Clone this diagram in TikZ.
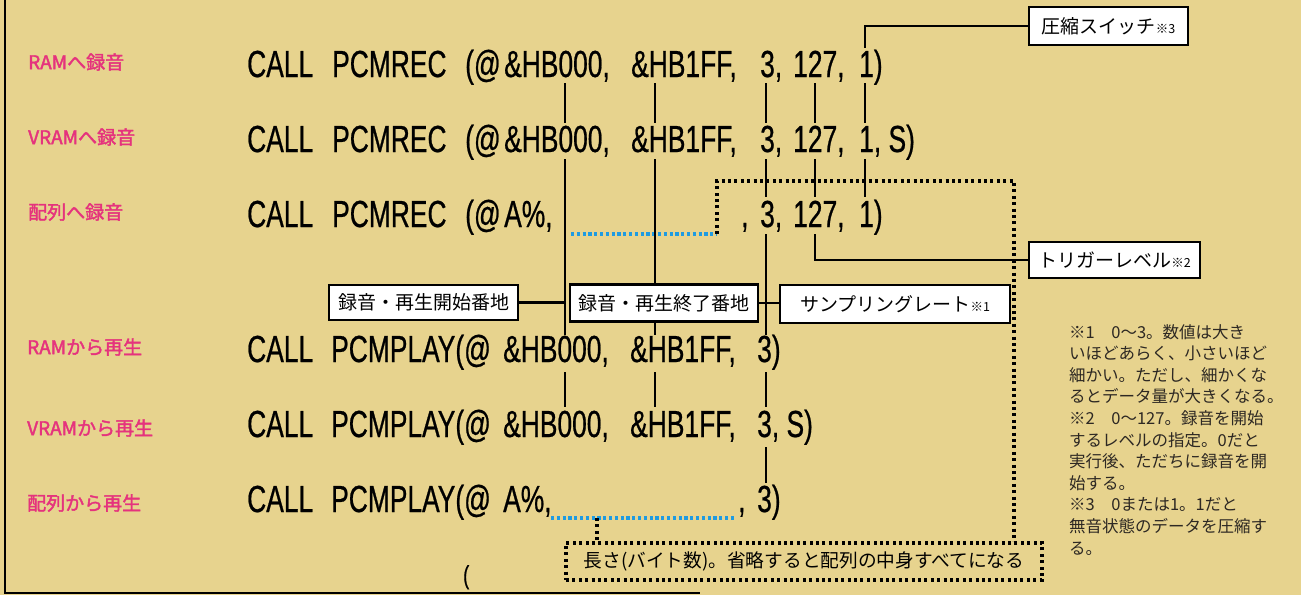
\documentclass[tikz,border=0pt]{standalone}
\usepackage{fontspec}
\newfontfamily\jp{Noto Sans CJK JP}
\newfontfamily\jpb[FakeBold=2]{Noto Sans CJK JP}
\newfontfamily\codef[FakeStretch=0.7,FakeBold=0.6]{Liberation Sans}
\definecolor{bg}{RGB}{231,211,142}
\definecolor{mag}{RGB}{229,51,125}
\definecolor{dotblue}{RGB}{30,155,225}
\definecolor{notec}{RGB}{45,40,35}
\begin{document}
\begin{tikzpicture}[x=1pt,y=-1pt,
  lab/.style={font=\jpb\fontsize{19}{21}\selectfont, text=mag, anchor=west, inner sep=0},
  tok/.style={font=\codef\fontsize{37.7}{40}\selectfont, text=black, anchor=base west, inner sep=0},
  bx/.style={draw=black, line width=2.6pt, fill=white, font=\jp\fontsize{19}{21}\selectfont, inner sep=0},
  con/.style={line width=2.3pt},
  bdot/.style={line width=3.2pt, dash pattern=on 3pt off 3.4pt},
  udot/.style={line width=3.6pt, draw=dotblue, dash pattern=on 3.2pt off 2.6pt},
  sm/.style={font=\jp\fontsize{13}{14}\selectfont}
]
\fill[bg] (0,0) rectangle (1301,595);
\useasboundingbox (0,0) rectangle (1301,595);
\draw[line width=2.8pt] (5,0) -- (5,593) -- (700,593);

% labels
\node[lab] (r1) at (28,62) {RAMへ録音};
\node[lab] (r2) at (28,137) {VRAMへ録音};
\node[lab] (r3) at (28,212) {配列へ録音};
\node[lab] (p1) at (27,347) {RAMから再生};
\node[lab] (p2) at (27,428) {VRAMから再生};
\node[lab] (p3) at (27,503) {配列から再生};

% line 1
\node[tok] (l1a) at (247,77) {CALL};
\node[tok] (l1b) at (332,77) {PCMREC};
\node[tok] (l1c) at (465,77) {(@};
\node[tok] (l1d) at (504,77) {\&HB000,};
\node[tok] (l1e) at (631,77) {\&HB1FF,};
\node[tok] (l1f) at (760,77) {3,};
\node[tok] (l1g) at (793,77) {127,};
\node[tok] (l1h) at (859,77) {1)};
% line 2
\node[tok] (l2a) at (247,152) {CALL};
\node[tok] (l2b) at (332,152) {PCMREC};
\node[tok] (l2c) at (465,152) {(@};
\node[tok] (l2d) at (504,152) {\&HB000,};
\node[tok] (l2e) at (631,152) {\&HB1FF,};
\node[tok] (l2f) at (760,152) {3,};
\node[tok] (l2g) at (793,152) {127,};
\node[tok] (l2h) at (859,152) {1, S)};
% line 3
\node[tok] (l3a) at (247,227) {CALL};
\node[tok] (l3b) at (332,227) {PCMREC};
\node[tok] (l3c) at (465,227) {(@};
\node[tok] (l3d) at (504,227) {A\%,};
\node[tok] (l3e) at (741,227) {,};
\node[tok] (l3f) at (760,227) {3,};
\node[tok] (l3g) at (793,227) {127,};
\node[tok] (l3h) at (859,227) {1)};
% line 4
\node[tok] (l4a) at (247,362) {CALL};
\node[tok] (l4b) at (331,362) {PCMPLAY(@};
\node[tok] (l4d) at (503,362) {\&HB000,};
\node[tok] (l4e) at (630,362) {\&HB1FF,};
\node[tok] (l4f) at (757,362) {3)};
% line 5
\node[tok] (l5a) at (247,437) {CALL};
\node[tok] (l5b) at (331,437) {PCMPLAY(@};
\node[tok] (l5d) at (503,437) {\&HB000,};
\node[tok] (l5e) at (630,437) {\&HB1FF,};
\node[tok] (l5f) at (757,437) {3, S)};
% line 6
\node[tok] (l6a) at (247,512) {CALL};
\node[tok] (l6b) at (331,512) {PCMPLAY(@};
\node[tok] (l6d) at (503,512) {A\%,};
\node[tok] (l6e) at (738,512) {,};
\node[tok] (l6f) at (757,512) {3)};
\node[tok, font=\codef\fontsize{26}{28}\selectfont] (paren) at (463,584) {(};

% boxes
\node[bx, minimum width=189pt, minimum height=35pt] (bstart) at (423.5,302.5) {録音・再生開始番地};
\node[bx, minimum width=188pt, minimum height=37pt] (bend) at (664,303) {録音・再生終了番地};
\node[bx, minimum width=230pt, minimum height=38pt] (bsamp) at (895,304) {サンプリングレート{\fontsize{12.5}{13}\selectfont ※1}};
\node[bx, minimum width=159pt, minimum height=38pt] (bcomp) at (1108.5,26) {圧縮スイッチ{\fontsize{12.5}{13}\selectfont ※3}};
\node[bx, minimum width=171pt, minimum height=36pt] (btrig) at (1114.5,260) {トリガーレベル{\fontsize{12.5}{13}\selectfont ※2}};
\node[draw=black, bdot, minimum width=476pt, minimum height=37pt, inner sep=0, font=\jp\fontsize{18.7}{21}\selectfont] (blen) at (804,561.5) {長さ(バイト数)。省略すると配列の中身すべてになる};

% blue dotted placeholders
\draw[udot] (571,234) -- (717,234);
\draw[udot] (551,518) -- (736,518);
% black dotted leaders
\coordinate (dA) at (717,234);
\coordinate (dB) at (1014,181);
\draw[bdot] (dA) -- (717,181) -- (dB) -- (dB |- blen.north);
\coordinate (dC) at (597,518);
\draw[bdot] (dC) -- (dC |- blen.north);

% column 1 (start address)
\coordinate (c1) at (565,302);
\draw[con] (565,83) -- (565,123);
\draw[con] (565,159) -- (565,335);
\draw[con] (565,372) -- (565,407);
\draw[con] (bstart.east) -- (bstart.east -| c1);
% column 2 (end address)
\coordinate (c2a) at (655,159);
\coordinate (c2b) at (655,335);
\draw[con] (655,83) -- (655,123);
\draw[con] (c2a) -- (c2a |- bend.north);
\draw[con] (c2b |- bend.south) -- (c2b);
\draw[con] (655,372) -- (655,407);
% column 3 (sampling rate)
\draw[con] (766,83) -- (766,123);
\draw[con] (766,159) -- (766,197);
\draw[con] (766,234) -- (766,335);
\draw[con] (766,372) -- (766,407);
\draw[con] (766,447) -- (766,483);
\draw[con] (bend.east) -- (bsamp.west |- bend.east);
% column 4 (trigger)
\coordinate (c4) at (815,234);
\draw[con] (815,83) -- (815,123);
\draw[con] (815,159) -- (815,197);
\draw[con] (c4) -- (c4 |- btrig.west) -- (btrig.west);
% column 5 (compress)
\coordinate (c5) at (865,48);
\draw[con] (bcomp.west) -- (bcomp.west -| c5) -- (c5);
\draw[con] (865,83) -- (865,123);
\draw[con] (865,159) -- (865,197);

% notes
\node[anchor=north west, inner sep=0, align=left, text=notec, font=\jp\fontsize{16.5}{21.6}\selectfont] (notes) at (1069,324) {※1\quad 0～3。数値は大き\\いほどあらく、小さいほど\\細かい。ただし、細かくな\\るとデータ量が大きくなる。\\※2\quad 0～127。録音を開始\\するレベルの指定。0だと\\実行後、ただちに録音を開\\始する。\\※3\quad 0または1。1だと\\無音状態のデータを圧縮す\\る。};
\end{tikzpicture}
\end{document}
